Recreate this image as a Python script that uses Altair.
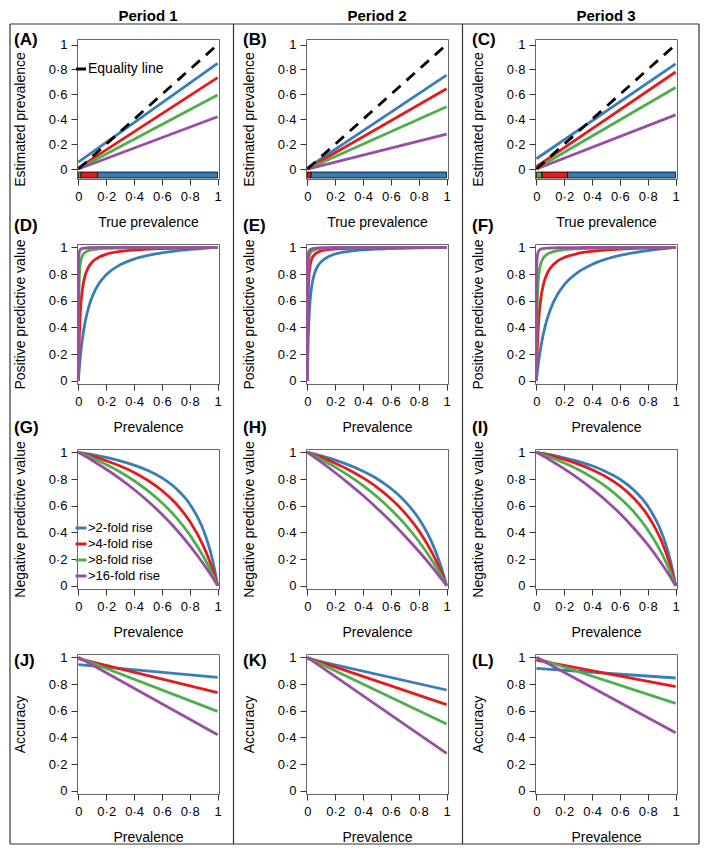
import altair as alt
import pandas as pd

FONT = "Liberation Sans"
SERIES = [">2-fold rise", ">4-fold rise", ">8-fold rise", ">16-fold rise"]
COLORS = ["#377EB8", "#E41A1C", "#4DAF4A", "#984EA3"]
PERIODS = ["Period 1", "Period 2", "Period 3"]
PANEL_LABELS = ["(A)", "(B)", "(C)", "(D)", "(E)", "(F)",
                "(G)", "(H)", "(I)", "(J)", "(K)", "(L)"]
Y_TITLES = ["Estimated prevalence", "Positive predictive value",
            "Negative predictive value", "Accuracy"]
X_TITLES = ["True prevalence", "Prevalence", "Prevalence", "Prevalence"]
TICKS = [0, 0.2, 0.4, 0.6, 0.8, 1]

# straight lines: values at prevalence 0 and 1
LINE_X = [0, 1]
EQUALITY_Y = [0, 1]
EST_P1 = [[0.055, 0.85], [0.01, 0.735], [0.003, 0.595], [0.0, 0.42]]
EST_P2 = [[0.01, 0.755], [0.002, 0.645], [0.0005, 0.5], [0.0, 0.28]]
EST_P3 = [[0.0825, 0.845], [0.02, 0.78], [0.005, 0.655], [0.0, 0.435]]

ACC_P1 = [[0.945, 0.85], [0.99, 0.735], [0.997, 0.595], [1.0, 0.42]]
ACC_P2 = [[0.99, 0.755], [0.998, 0.645], [0.9995, 0.5], [1.0, 0.28]]
ACC_P3 = [[0.9175, 0.845], [0.98, 0.78], [0.995, 0.655], [1.0, 0.435]]

# positive predictive value curves
PPV_X = [0, 0.002, 0.005, 0.01, 0.02, 0.03, 0.05, 0.075, 0.1, 0.15, 0.2,
         0.3, 0.4, 0.5, 0.6, 0.8, 1.0]
PPV_P1 = [
    [0, 0.03, 0.072, 0.135, 0.24, 0.323, 0.449, 0.556, 0.632, 0.732, 0.794,
     0.869, 0.912, 0.939, 0.959, 0.984, 1.0],
    [0, 0.128, 0.27, 0.426, 0.6, 0.694, 0.795, 0.856, 0.891, 0.928, 0.948,
     0.969, 0.98, 0.987, 0.991, 0.997, 1.0],
    [0, 0.498, 0.714, 0.834, 0.91, 0.939, 0.963, 0.976, 0.982, 0.989, 0.992,
     0.995, 0.997, 0.998, 0.999, 0.9995, 1.0],
    [0, 0.89, 0.955, 0.977, 0.988, 0.992, 0.995, 0.997, 0.998, 0.999, 0.999,
     0.9995, 0.9995, 0.9997, 0.9998, 0.9999, 1.0],
]
PPV_P2 = [
    [0, 0.131, 0.275, 0.433, 0.606, 0.70, 0.80, 0.86, 0.893, 0.93, 0.95,
     0.97, 0.981, 0.987, 0.991, 0.997, 1.0],
    [0, 0.393, 0.618, 0.765, 0.868, 0.909, 0.944, 0.963, 0.973, 0.983, 0.988,
     0.993, 0.995, 0.997, 0.998, 0.999, 1.0],
    [0, 0.667, 0.834, 0.91, 0.953, 0.969, 0.981, 0.988, 0.991, 0.994, 0.996,
     0.998, 0.9985, 0.999, 0.9993, 0.9997, 1.0],
    [0, 0.85, 0.934, 0.966, 0.982, 0.988, 0.993, 0.995, 0.997, 0.998, 0.9986,
     0.9992, 0.9995, 0.9996, 0.9997, 0.9999, 1.0],
]
PPV_P3 = [
    [0, 0.02, 0.049, 0.094, 0.173, 0.241, 0.35, 0.454, 0.532, 0.644, 0.719,
     0.814, 0.872, 0.911, 0.939, 0.976, 1.0],
    [0, 0.089, 0.197, 0.33, 0.499, 0.601, 0.72, 0.798, 0.844, 0.896, 0.924,
     0.954, 0.97, 0.98, 0.987, 0.995, 1.0],
    [0, 0.304, 0.523, 0.688, 0.817, 0.871, 0.92, 0.947, 0.96, 0.975, 0.982,
     0.989, 0.993, 0.995, 0.997, 0.999, 1.0],
    [0, 0.813, 0.916, 0.956, 0.978, 0.985, 0.991, 0.994, 0.995, 0.997, 0.998,
     0.9985, 0.999, 0.9993, 0.9995, 0.9998, 1.0],
]

# negative predictive value curves
NPV_X = [0, 0.1, 0.2, 0.3, 0.4, 0.5, 0.6, 0.7, 0.8, 0.9, 0.95, 0.98, 1.0]
NPV_P1 = [
    [1, 0.983, 0.962, 0.936, 0.904, 0.863, 0.808, 0.730, 0.612, 0.412, 0.249, 0.114, 0],
    [1, 0.971, 0.937, 0.897, 0.849, 0.789, 0.714, 0.616, 0.483, 0.293, 0.164, 0.071, 0],
    [1, 0.957, 0.908, 0.852, 0.787, 0.711, 0.622, 0.514, 0.381, 0.215, 0.115, 0.048, 0],
    [1, 0.939, 0.873, 0.801, 0.721, 0.633, 0.535, 0.425, 0.301, 0.161, 0.083, 0.034, 0],
]
NPV_P2 = [
    [1, 0.973, 0.942, 0.904, 0.858, 0.802, 0.729, 0.634, 0.503, 0.31, 0.175, 0.076, 0],
    [1, 0.962, 0.918, 0.868, 0.808, 0.738, 0.652, 0.546, 0.413, 0.238, 0.129, 0.054, 0],
    [1, 0.947, 0.889, 0.823, 0.75, 0.667, 0.571, 0.461, 0.333, 0.182, 0.095, 0.039, 0],
    [1, 0.926, 0.847, 0.764, 0.676, 0.581, 0.481, 0.373, 0.258, 0.134, 0.068, 0.028, 0],
]
NPV_P3 = [
    [1, 0.982, 0.959, 0.932, 0.899, 0.855, 0.798, 0.717, 0.597, 0.397, 0.238, 0.108, 0],
    [1, 0.976, 0.947, 0.912, 0.87, 0.817, 0.748, 0.656, 0.527, 0.331, 0.19, 0.083, 0],
    [1, 0.963, 0.92, 0.871, 0.812, 0.743, 0.658, 0.553, 0.419, 0.243, 0.132, 0.056, 0],
    [1, 0.941, 0.876, 0.805, 0.726, 0.639, 0.541, 0.431, 0.307, 0.164, 0.085, 0.035, 0],
]

# coloured strips under the estimated-prevalence panels
STRIP_Y = [-0.072, -0.024]
STRIP_P1_SERIES = [">8-fold rise", ">4-fold rise", ">2-fold rise"]
STRIP_P1_START = [0.0, 0.019, 0.138]
STRIP_P1_END = [0.019, 0.138, 1.0]
STRIP_P2_SERIES = [">4-fold rise", ">2-fold rise"]
STRIP_P2_START = [0.0, 0.027]
STRIP_P2_END = [0.027, 1.0]
STRIP_P3_SERIES = [">8-fold rise", ">4-fold rise", ">2-fold rise"]
STRIP_P3_START = [0.0, 0.04, 0.224]
STRIP_P3_END = [0.04, 0.224, 1.0]

ROW_X = [LINE_X, PPV_X, NPV_X, LINE_X]
ROW_DATA = [[EST_P1, EST_P2, EST_P3], [PPV_P1, PPV_P2, PPV_P3],
            [NPV_P1, NPV_P2, NPV_P3], [ACC_P1, ACC_P2, ACC_P3]]
STRIPS = [(STRIP_P1_SERIES, STRIP_P1_START, STRIP_P1_END),
          (STRIP_P2_SERIES, STRIP_P2_START, STRIP_P2_END),
          (STRIP_P3_SERIES, STRIP_P3_START, STRIP_P3_END)]
Y_DOMAINS = [[-0.08, 1.045], [-0.025, 1.025], [-0.025, 1.025], [-0.025, 1.025]]

# layout (pixels relative to each panel's plot area)
W, H = 142, 140
ROW_GAP, COL_GAP = 65, 87
LABEL_DY = [1, -18, -21, 7]
FRAME_TOP = -15
FRAME_BOTTOM = 3 * (H + ROW_GAP) + H + 50
FRAME_XS = [-67, W + 14.5, 2 * W + COL_GAP + 14.5, 3 * W + 2 * COL_GAP + 22]
LABEL_EXPR = "replace(format(datum.value, '.1~f'), '.', '\u00b7')"


def series_df(xs, ys_by_series):
    recs = []
    for name, ys in zip(SERIES, ys_by_series):
        for x, y in zip(xs, ys):
            recs.append({"series": name, "x": x, "y": y})
    return pd.DataFrame(recs)


def make_panel(r, c):
    xs = alt.Scale(domain=[-0.01, 1.01], nice=False, zero=False)
    ys = alt.Scale(domain=Y_DOMAINS[r], nice=False, zero=False)
    xaxis = alt.Axis(values=TICKS, title=X_TITLES[r], labelExpr=LABEL_EXPR)
    if r == 0:
        yaxis = alt.Axis(values=TICKS, title=Y_TITLES[r], labelExpr=LABEL_EXPR,
                         titleY=80)
    else:
        yaxis = alt.Axis(values=TICKS, title=Y_TITLES[r], labelExpr=LABEL_EXPR)
    cscale = alt.Scale(domain=SERIES, range=COLORS)
    if r == 2 and c == 0:
        legend = alt.Legend(orient="none", legendX=-3, legendY=72, title=None,
                            direction="vertical", symbolType="stroke",
                            symbolSize=121, symbolStrokeWidth=3,
                            labelFontSize=13, labelOffset=0, rowPadding=2,
                            padding=0, labelColor="black", labelFont=FONT)
    else:
        legend = None
    layers = []
    if r == 0:
        names, starts, ends = STRIPS[c]
        sdf = pd.DataFrame({"series": names, "start": starts, "end": ends,
                            "ylo": [STRIP_Y[0]] * len(names),
                            "yhi": [STRIP_Y[1]] * len(names)})
        layers.append(
            alt.Chart(sdf).mark_rect(stroke="black", strokeWidth=0.8).encode(
                x=alt.X("start:Q", scale=xs, axis=xaxis), x2="end:Q",
                y=alt.Y("ylo:Q", scale=ys, axis=yaxis), y2="yhi:Q",
                color=alt.Color("series:N", scale=cscale, legend=None)))
    df = series_df(ROW_X[r], ROW_DATA[r][c])
    layers.append(
        alt.Chart(df).mark_line(strokeWidth=2.8,
                                interpolate="monotone" if r in (1, 2) else "linear").encode(
            x=alt.X("x:Q", scale=xs, axis=xaxis),
            y=alt.Y("y:Q", scale=ys, axis=yaxis),
            color=alt.Color("series:N", scale=cscale, legend=legend)))
    if r == 0:
        edf = pd.DataFrame({"x": LINE_X, "y": EQUALITY_Y,
                            "kind": ["Equality line"] * 2})
        if c == 0:
            dlegend = alt.Legend(orient="none", legendX=-3, legendY=23,
                                 title=None, symbolType="stroke",
                                 symbolSize=100, symbolStrokeWidth=3,
                                 symbolStrokeColor="black", symbolDash=[4, 2],
                                 labelFontSize=14, labelOffset=0, padding=0,
                                 labelColor="black", labelFont=FONT)
        else:
            dlegend = None
        layers.append(
            alt.Chart(edf).mark_line(color="black", strokeWidth=2.8).encode(
                x=alt.X("x:Q", scale=xs, axis=xaxis),
                y=alt.Y("y:Q", scale=ys, axis=yaxis),
                strokeDash=alt.StrokeDash(
                    "kind:N",
                    scale=alt.Scale(domain=["Equality line"], range=[[11, 8]]),
                    legend=dlegend)))
        # column heading
        pdf = pd.DataFrame({"period": [PERIODS[c]]})
        layers.append(
            alt.Chart(pdf).mark_text(align="center", baseline="alphabetic",
                                     fontSize=15, fontWeight="bold", font=FONT,
                                     color="black").encode(
                text="period:N", x=alt.value(W / 2), y=alt.value(-18)))
    ldf = pd.DataFrame({"label": [PANEL_LABELS[r * 3 + c]]})
    layers.append(
        alt.Chart(ldf).mark_text(align="left", baseline="middle", fontSize=17,
                                 fontWeight="bold", font=FONT, color="black").encode(
            text="label:N", x=alt.value(-63), y=alt.value(LABEL_DY[r])))
    if r == 0 and c == 0:
        fdf = pd.DataFrame({"k": [0]})
        for fx in FRAME_XS:
            layers.append(alt.Chart(fdf).mark_rule(color="#333", strokeWidth=1.2).encode(
                x=alt.value(fx), y=alt.value(FRAME_TOP), y2=alt.value(FRAME_BOTTOM)))
        for fy in [FRAME_TOP, FRAME_BOTTOM]:
            layers.append(alt.Chart(fdf).mark_rule(color="#333", strokeWidth=1.2).encode(
                x=alt.value(FRAME_XS[0]), x2=alt.value(FRAME_XS[-1]), y=alt.value(fy)))
    return alt.layer(*layers).properties(width=W, height=H)


panels = [make_panel(r, c) for r in range(4) for c in range(3)]

chart = alt.concat(
    *panels, columns=3, spacing=alt.RowColnumber(row=ROW_GAP, column=COL_GAP),
    bounds="flush"
).resolve_scale(
    color="independent", strokeDash="independent"
).properties(
    padding=0,
    background="white"
).configure_view(
    stroke="#666", strokeWidth=1
).configure_axis(
    labelFont=FONT, titleFont=FONT, labelFontSize=13, titleFontSize=14,
    labelColor="black", titleColor="black", titleFontWeight="normal",
    tickColor="#333", tickSize=6, domain=False, grid=False,
    labelOverlap=False, labelFlush=False
).configure_axisX(
    labelPadding=5, titleY=36, titleBaseline="top"
).configure_axisY(
    labelPadding=4, titleX=-50, titleBaseline="bottom"
)

chart.save("out.html", embed_options={"renderer": "svg", "actions": False})
